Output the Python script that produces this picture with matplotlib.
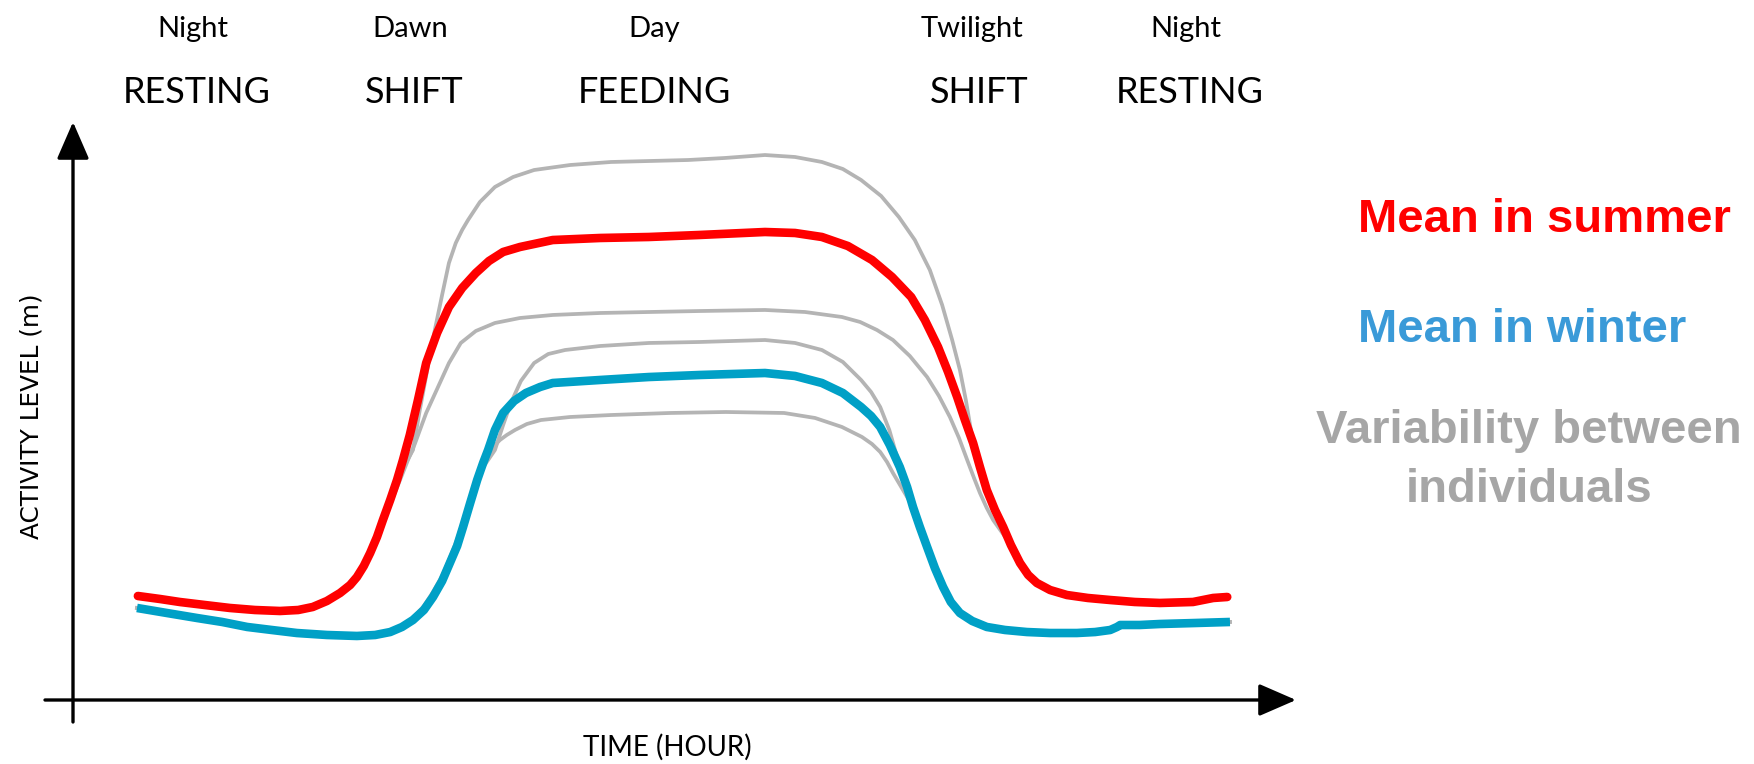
import matplotlib
matplotlib.use("Agg")
import matplotlib.pyplot as plt

# hours (x) and activity level (y, arbitrary 0-100 scale)
summer_t = [0.02, 0.51, 0.94, 1.49, 2.04, 2.59, 3.14, 3.54, 3.86, 4.17, 4.46, 4.68, 4.83,
            4.98, 5.12, 5.27, 5.40, 5.56, 5.71, 5.84, 5.99, 6.17, 6.35, 6.59, 6.85, 7.14,
            7.44, 7.73, 8.04, 8.41, 9.13, 10.17, 11.24, 12.36, 13.79, 14.45, 15.04, 15.61,
            16.14, 16.58, 17.00, 17.30, 17.59, 17.81, 18.01, 18.18, 18.36, 18.51, 18.66,
            18.84, 19.02, 19.19, 19.39, 19.57, 19.76, 20.05, 20.42, 20.88, 21.37, 21.91,
            22.46, 23.19, 23.63, 23.94]
summer_a = [18.76, 18.24, 17.73, 17.21, 16.70, 16.35, 16.18, 16.35, 16.87, 17.90, 19.28,
            20.65, 22.03, 23.92, 26.16, 28.92, 31.84, 35.28, 38.73, 42.17, 46.47, 52.50,
            58.86, 64.03, 68.50, 71.77, 74.35, 76.42, 77.97, 78.83, 80.03, 80.38, 80.55,
            80.90, 81.41, 81.24, 80.55, 79.00, 76.59, 73.67, 70.22, 66.27, 61.62, 57.31,
            53.01, 49.05, 45.09, 40.96, 37.01, 33.56, 30.64, 27.54, 24.44, 22.38, 21.00,
            19.79, 18.93, 18.42, 18.07, 17.73, 17.56, 17.73, 18.42, 18.59]

winter_t = [0.00, 0.66, 1.32, 1.87, 2.42, 2.96, 3.51, 4.17, 4.83, 5.23, 5.56, 5.82, 6.06,
            6.30, 6.50, 6.70, 6.87, 7.03, 7.16, 7.31, 7.47, 7.60, 7.71, 7.86, 8.04, 8.28,
            8.54, 8.85, 9.13, 10.17, 11.24, 12.36, 13.79, 14.45, 15.04, 15.50, 15.90, 16.12,
            16.32, 16.53, 16.75, 16.91, 17.04, 17.19, 17.35, 17.52, 17.70, 17.87, 18.07,
            18.34, 18.66, 19.06, 19.54, 20.05, 20.64, 21.04, 21.37, 21.52, 21.59, 22.02,
            22.46, 23.23, 24.00]
winter_a = [16.70, 15.83, 14.97, 14.29, 13.43, 12.91, 12.39, 12.05, 11.88, 12.05, 12.56,
            13.43, 14.63, 16.35, 18.59, 21.34, 24.44, 27.37, 30.64, 34.60, 38.73, 41.65,
            43.89, 47.33, 50.26, 52.32, 53.70, 54.73, 55.42, 55.94, 56.45, 56.80, 57.14,
            56.63, 55.42, 53.70, 51.29, 49.74, 47.85, 44.75, 40.96, 37.52, 34.08, 30.64,
            27.19, 23.58, 20.31, 17.73, 15.83, 14.46, 13.43, 12.91, 12.56, 12.39, 12.39,
            12.56, 12.91, 13.43, 13.77, 13.77, 13.94, 14.11, 14.29]

# individual curves (grey); during the night they run under the means
ind1_t = [0.02, 0.51, 0.94, 1.49, 2.04, 2.59, 3.14, 3.54, 3.86, 4.17, 4.46, 4.68, 4.83,
          4.98, 5.12, 5.27, 5.40, 5.60, 5.82, 6.06, 6.21, 6.37, 6.54, 6.70, 6.85, 7.00,
          7.14, 7.27, 7.53, 7.86, 8.26, 8.72, 9.51, 10.41, 11.26, 12.10, 12.91, 13.79,
          14.45, 15.04, 15.50, 15.90, 16.34, 16.73, 17.08, 17.41, 17.68, 17.90, 18.07,
          18.20, 18.36, 18.51, 18.66, 18.84, 19.02, 19.19, 19.39, 19.57, 19.76, 20.05,
          20.42, 20.88, 21.37, 21.91, 22.46, 23.19, 23.63, 23.94]
ind1_a = [18.76, 18.24, 17.73, 17.21, 16.70, 16.35, 16.18, 16.35, 16.87, 17.90, 19.28,
          20.65, 22.03, 23.92, 26.16, 28.92, 31.84, 36.14, 40.45, 43.89, 50.77, 57.49,
          64.54, 70.57, 76.08, 79.52, 81.76, 83.48, 86.57, 89.16, 90.88, 92.08, 92.94,
          93.46, 93.63, 93.80, 94.15, 94.66, 94.32, 93.46, 92.25, 90.36, 87.61, 83.99,
          80.03, 74.87, 68.85, 62.82, 57.66, 52.50, 45.09, 40.96, 37.01, 33.56, 30.64,
          27.54, 24.44, 22.38, 21.00, 19.79, 18.93, 18.42, 18.07, 17.73, 17.56, 17.73,
          18.42, 18.59]

ind2_t = [0.02, 0.51, 0.94, 1.49, 2.04, 2.59, 3.14, 3.54, 3.86, 4.17, 4.46, 4.68, 4.83,
          4.98, 5.12, 5.34, 5.51, 5.67, 5.82, 5.95, 6.10, 6.35, 6.61, 6.85, 7.11, 7.44,
          7.86, 8.41, 9.13, 10.17, 11.24, 12.36, 13.79, 14.67, 15.48, 15.88, 16.25, 16.60,
          16.97, 17.35, 17.61, 17.85, 18.05, 18.23, 18.38, 18.51, 18.66, 18.80, 19.19,
          19.39, 19.57, 19.76, 20.05, 20.42, 20.88, 21.37, 21.91, 22.46, 23.19, 23.63, 23.94]
ind2_a = [18.76, 18.24, 17.73, 17.21, 16.70, 16.35, 16.18, 16.35, 16.87, 17.90, 19.28,
          20.65, 22.03, 23.92, 26.16, 30.12, 33.56, 36.66, 39.59, 42.17, 44.92, 50.26,
          54.73, 58.86, 62.31, 64.37, 65.75, 66.61, 67.13, 67.47, 67.64, 67.81, 67.99,
          67.64, 66.78, 65.92, 64.54, 62.82, 60.07, 56.45, 53.18, 49.57, 45.96, 42.17,
          39.07, 36.49, 33.91, 31.84, 27.54, 24.44, 22.38, 21.00, 19.79, 18.93, 18.42,
          18.07, 17.73, 17.56, 17.73, 18.42, 18.59]

ind3_t = [0.00, 0.66, 1.32, 1.87, 2.42, 2.96, 3.51, 4.17, 4.83, 5.23, 5.56, 5.82, 6.06,
          6.30, 6.50, 6.70, 6.87, 7.05, 7.20, 7.38, 7.53, 7.71, 7.86, 8.04, 8.21, 8.43,
          8.72, 9.03, 9.40, 10.17, 11.24, 12.36, 13.79, 14.45, 15.04, 15.50, 15.90, 16.12,
          16.32, 16.52, 16.69, 16.91, 17.04, 17.19, 17.35, 17.52, 17.70, 17.87, 18.07,
          18.34, 18.66, 19.06, 19.54, 20.05, 20.64, 21.04, 21.37, 21.52, 21.59, 22.02,
          22.46, 23.23, 24.00]
ind3_a = [16.70, 15.83, 14.97, 14.29, 13.43, 12.91, 12.39, 12.05, 11.88, 12.05, 12.56,
          13.43, 14.97, 17.04, 19.45, 22.20, 25.30, 28.92, 32.70, 36.66, 40.10, 42.17,
          43.89, 48.19, 51.98, 55.77, 58.86, 60.41, 61.10, 61.79, 62.31, 62.48, 62.82,
          62.31, 61.10, 59.04, 55.94, 53.87, 51.29, 47.33, 42.69, 37.52, 34.08, 30.64,
          27.19, 23.58, 20.31, 17.73, 15.83, 14.46, 13.43, 12.91, 12.56, 12.39, 12.39,
          12.56, 12.91, 13.43, 13.77, 13.77, 13.94, 14.11, 14.29]

ind4_t = [0.00, 0.66, 1.32, 1.87, 2.42, 2.96, 3.51, 4.17, 4.83, 5.23, 5.56, 5.82, 6.06,
          6.30, 6.50, 6.70, 6.87, 7.03, 7.16, 7.31, 7.47, 7.60, 7.71, 7.84, 7.97, 8.12,
          8.30, 8.56, 8.87, 9.51, 10.41, 11.70, 12.93, 14.21, 14.89, 15.48, 15.92, 16.14,
          16.32, 16.47, 16.60, 17.04, 17.19, 17.35, 17.52, 17.70, 17.87, 18.07, 18.34,
          18.66, 19.06, 19.54, 20.05, 20.64, 21.04, 21.37, 21.52, 21.59, 22.02, 22.46,
          23.23, 24.00]
ind4_a = [16.70, 15.83, 14.97, 14.29, 13.43, 12.91, 12.39, 12.05, 11.88, 12.05, 12.56,
          13.43, 14.63, 16.35, 18.59, 21.34, 24.44, 27.37, 30.64, 34.60, 38.73, 41.31,
          43.03, 44.58, 45.61, 46.47, 47.33, 48.36, 49.05, 49.57, 49.91, 50.26, 50.43,
          50.26, 49.40, 47.85, 46.13, 44.92, 43.55, 41.82, 39.93, 34.08, 30.64, 27.19,
          23.58, 20.31, 17.73, 15.83, 14.46, 13.43, 12.91, 12.56, 12.39, 12.39, 12.56,
          12.91, 13.43, 13.77, 13.77, 13.94, 14.11, 14.29]

periods = ["Night", "Dawn", "Day", "Twilight", "Night"]
behaviours = ["RESTING", "SHIFT", "FEEDING", "SHIFT", "RESTING"]
period_x = [0.110, 0.234, 0.373, 0.554, 0.676]
behaviour_x = [0.112, 0.236, 0.373, 0.558, 0.678]

RED = "#ff0000"
BLUE = "#00a0c6"
GREY = "#b4b4b4"

fig = plt.figure(figsize=(17.54, 7.64), dpi=100)
ax = fig.add_axes([0, 0, 1, 1])
ax.set_xlim(-3.008, 35.507)
ax.set_ylim(-10.155, 121.34)
ax.axis("off")

for t, a in [(ind1_t, ind1_a), (ind2_t, ind2_a), (ind3_t, ind3_a), (ind4_t, ind4_a)]:
    ax.plot(t, a, color=GREY, lw=2.7, solid_joinstyle="round", zorder=2)

ax.plot(summer_t, summer_a, color=RED, lw=6.2, solid_capstyle="round",
        solid_joinstyle="round", zorder=3)
ax.plot(winter_t, winter_a, color=BLUE, lw=6.2, solid_capstyle="butt",
        solid_joinstyle="round", zorder=3)

# axis arrows
arrow = dict(arrowstyle="-|>,head_length=2.3,head_width=1.0", lw=2.4, color="black",
             shrinkA=0, shrinkB=0)
ax.annotate("", xy=(73 / 1754, 1 - 122 / 764), xytext=(73 / 1754, 1 - 722 / 764),
            xycoords="axes fraction", textcoords="axes fraction", arrowprops=arrow)
ax.annotate("", xy=(1296 / 1754, 1 - 700 / 764), xytext=(45 / 1754, 1 - 700 / 764),
            xycoords="axes fraction", textcoords="axes fraction", arrowprops=arrow)

for lab, x in zip(periods, period_x):
    ax.text(x, 0.962, lab, transform=ax.transAxes, ha="center", va="center",
            family="Lato", fontsize=21)
for lab, x in zip(behaviours, behaviour_x):
    ax.text(x, 0.879, lab, transform=ax.transAxes, ha="center", va="center",
            family="Lato", fontsize=26)

ax.text(0.018, 0.4555, "ACTIVITY LEVEL (m)", transform=ax.transAxes, rotation=90,
        ha="center", va="center", family="DejaVu Sans", fontsize=17.8)
ax.text(0.3803, 0.0222, "TIME (HOUR)", transform=ax.transAxes, ha="center",
        va="center", family="Lato", fontsize=20)

ax.text(0.7742, 0.6963, "Mean in summer", transform=ax.transAxes, ha="left",
        va="baseline", family="Liberation Sans", weight="bold", fontsize=34, color=RED)
ax.text(0.7742, 0.5524, "Mean in winter", transform=ax.transAxes, ha="left",
        va="baseline", family="Liberation Sans", weight="bold", fontsize=34, color="#3a9ad8")
ax.text(0.8717, 0.4202, "Variability between", transform=ax.transAxes, ha="center",
        va="baseline", family="Liberation Sans", weight="bold", fontsize=34, color="#a6a6a6")
ax.text(0.8717, 0.3429, "individuals", transform=ax.transAxes, ha="center",
        va="baseline", family="Liberation Sans", weight="bold", fontsize=34, color="#a6a6a6")

fig.savefig("out.png", dpi=100, facecolor="white")
